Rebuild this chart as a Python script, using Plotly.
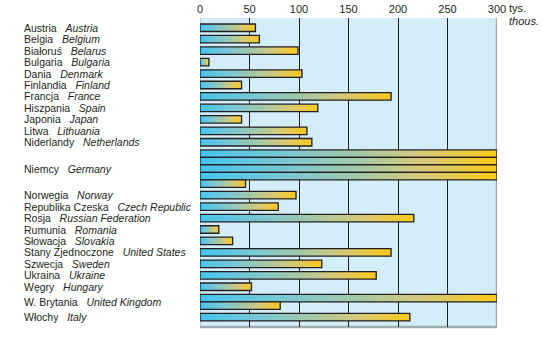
import math
import plotly.graph_objects as go

# Countries (Polish / English) and values in thousands
names_pl = ["Austria", "Belgia", "Białoruś", "Bulgaria", "Dania", "Finlandia", "Francja",
            "Hiszpania", "Japonia", "Litwa", "Niderlandy", "Niemcy", "Norwegia",
            "Republika Czeska", "Rosja", "Rumunia", "Słowacja", "Stany Zjednoczone",
            "Szwecja", "Ukraina", "Węgry", "W. Brytania", "Włochy"]
names_en = ["Austria", "Belgium", "Belarus", "Bulgaria", "Denmark", "Finland", "France",
            "Spain", "Japan", "Lithuania", "Netherlands", "Germany", "Norway",
            "Czech Republic", "Russian Federation", "Romania", "Slovakia", "United States",
            "Sweden", "Ukraine", "Hungary", "United Kingdom", "Italy"]
values = [56, 60, 99, 9, 103, 42, 193, 119, 42, 108, 113, 1246, 97,
          79, 216, 19, 33, 193, 123, 178, 52, 381, 212]

tick_vals = [0, 50, 100, 150, 200, 250, 300]
grid_vals = [50, 100, 150, 200, 250]
AXIS_MAX = 300  # values above this wrap onto extra rows

# row geometry (vertical layout units)
ROW = 7.5
GAP = 3.95
PAD = 6.0
Y_SPAN = 309

FONT = "Liberation Sans, Arial, sans-serif"
INK = "#231F20"
GRAD = [[0.0, "#45C4EF"], [0.3, "#7DC8D2"], [0.5, "#9DC8AE"],
        [0.75, "#D5C979"], [1.0, "#FCC915"]]

fig = go.Figure()
annotations = []

y = PAD
for pl, en, v in zip(names_pl, names_en, values):
    n_rows = max(1, math.ceil(v / AXIS_MAX))
    block_top = y
    remaining = v
    for r in range(n_rows):
        w = min(remaining, AXIS_MAX)
        remaining -= w
        top, bot = y, y + ROW
        fig.add_trace(go.Scatter(
            x=[0, w, w, 0, 0], y=[top, top, bot, bot, top],
            mode="lines", fill="toself",
            fillgradient=dict(type="horizontal", colorscale=GRAD, start=0, stop=w),
            line=dict(color=INK, width=1.3),
            hoverinfo="skip", showlegend=False,
        ))
        y = bot
    annotations.append(dict(
        xref="paper", yref="y", x=0, xshift=-178, xanchor="left",
        y=(block_top + y) / 2, yanchor="middle", showarrow=False,
        text=pl + "\u00a0\u00a0\u00a0<i>" + en + "</i>",
        font=dict(family=FONT, size=10.5, color=INK),
    ))
    y += GAP

# unit label next to the last tick
annotations.append(dict(xref="x", yref="paper", x=AXIS_MAX, xshift=10, xanchor="left",
                        y=1, yshift=10.5, yanchor="middle", showarrow=False, text="tys.",
                        font=dict(family=FONT, size=11, color=INK)))
annotations.append(dict(xref="x", yref="paper", x=AXIS_MAX, xshift=10, xanchor="left",
                        y=1, yshift=-3, yanchor="middle", showarrow=False, text="<i>thous.</i>",
                        font=dict(family=FONT, size=11, color=INK)))

# frame: thin left edge, heavier right/bottom edge
edge = "#9EABB1"
shapes = [
    dict(type="line", xref="x", yref="paper", x0=0, x1=0, y0=0, y1=1,
         line=dict(color=edge, width=1), layer="between"),
    dict(type="line", xref="x", yref="paper", x0=AXIS_MAX, x1=AXIS_MAX, y0=0, y1=1,
         line=dict(color=edge, width=2.5), layer="between"),
    dict(type="line", xref="x", yref="paper", x0=0, x1=AXIS_MAX, y0=0, y1=0,
         line=dict(color=edge, width=2.5), layer="between"),
]

fig.update_layout(
    width=543, height=337,
    margin=dict(l=200, r=46, t=18, b=10, autoexpand=False),
    paper_bgcolor="white", plot_bgcolor="#D4EEF9",
    showlegend=False,
    annotations=annotations, shapes=shapes,
    xaxis=dict(side="top", range=[0, AXIS_MAX], tickvals=tick_vals,
               ticktext=[str(t) for t in tick_vals],
               showgrid=False, zeroline=False, showline=False, ticks="",
               automargin=False, ticklabelstandoff=2,
               minor=dict(tickvals=grid_vals, showgrid=True, gridcolor=INK,
                          gridwidth=1.2, ticks=""),
               tickfont=dict(family=FONT, size=11, color=INK), fixedrange=True),
    yaxis=dict(range=[Y_SPAN, 0], showgrid=False, zeroline=False,
               showticklabels=False, showline=False, fixedrange=True,
               automargin=False),
)

fig.write_html("out.html")
